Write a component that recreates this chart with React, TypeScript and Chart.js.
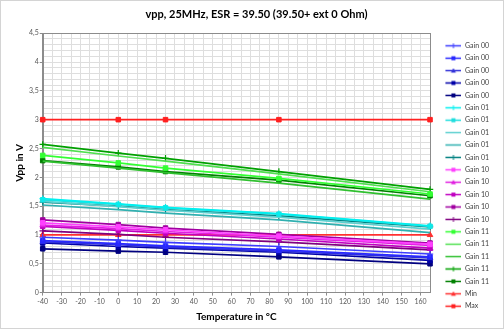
import React, { useEffect, useRef } from 'react';
import { Chart, registerables } from 'chart.js';
Chart.register(...registerables);

// ---- data ----
const temperatures = [-40, 0, 25, 85, 165];

const gain00a = [0.96, 0.91, 0.87, 0.80, 0.67];
const gain00b = [0.90, 0.85, 0.81, 0.74, 0.62];
const gain00c = [0.88, 0.83, 0.79, 0.72, 0.60];
const gain00d = [0.86, 0.80, 0.77, 0.70, 0.56];
const gain00e = [0.76, 0.72, 0.70, 0.62, 0.50];

const gain01a = [1.63, 1.54, 1.48, 1.37, 1.16];
const gain01b = [1.61, 1.53, 1.47, 1.36, 1.15];
const gain01c = [1.58, 1.49, 1.43, 1.31, 1.10];
const gain01d = [1.52, 1.44, 1.38, 1.26, 1.04];
const gain01e = [1.57, 1.50, 1.44, 1.33, 1.14];

const gain10a = [1.21, 1.14, 1.09, 0.98, 0.84];
const gain10b = [1.17, 1.11, 1.06, 0.96, 0.82];
const gain10c = [1.15, 1.08, 1.03, 0.93, 0.77];
const gain10d = [1.26, 1.18, 1.12, 1.01, 0.86];
const gain10e = [1.07, 1.01, 0.96, 0.88, 0.74];

const gain11a = [2.38, 2.25, 2.16, 1.98, 1.71];
const gain11b = [2.52, 2.37, 2.28, 2.06, 1.75];
const gain11c = [2.28, 2.16, 2.08, 1.90, 1.62];
const gain11d = [2.57, 2.42, 2.33, 2.10, 1.79];
const gain11e = [2.29, 2.18, 2.10, 1.95, 1.68];

const minValues = [1, 1, 1, 1, 1];
const maxValues = [3, 3, 3, 3, 3];

const titleText = 'vpp, 25MHz, ESR = 39.50 (39.50+ ext 0 Ohm)';
const xTitle = 'Temperature in °C';
const yTitle = 'Vpp in V';
const xMin = -40;
const xMax = 165;
const yMin = 0;
const yMax = 4.5;

// ---- series styling ----
type Marker = 'cross' | 'rect' | 'triangle' | false;
const series: { label: string; values: number[]; color: string; marker: Marker }[] = [
  { label: 'Gain 00', values: gain00a, color: '#3c3cff', marker: 'cross' },
  { label: 'Gain 00', values: gain00b, color: '#2828ff', marker: 'rect' },
  { label: 'Gain 00', values: gain00c, color: '#3030d8', marker: 'triangle' },
  { label: 'Gain 00', values: gain00d, color: '#0000a8', marker: 'rect' },
  { label: 'Gain 00', values: gain00e, color: '#000080', marker: 'rect' },
  { label: 'Gain 01', values: gain01a, color: '#00f0f0', marker: 'cross' },
  { label: 'Gain 01', values: gain01b, color: '#20dede', marker: 'rect' },
  { label: 'Gain 01', values: gain01c, color: '#5cd0d0', marker: false },
  { label: 'Gain 01', values: gain01d, color: '#30b0b0', marker: false },
  { label: 'Gain 01', values: gain01e, color: '#008080', marker: 'cross' },
  { label: 'Gain 10', values: gain10a, color: '#ff40ff', marker: 'rect' },
  { label: 'Gain 10', values: gain10b, color: '#e020e0', marker: 'triangle' },
  { label: 'Gain 10', values: gain10c, color: '#c000c0', marker: 'rect' },
  { label: 'Gain 10', values: gain10d, color: '#a000a0', marker: 'rect' },
  { label: 'Gain 10', values: gain10e, color: '#800080', marker: 'cross' },
  { label: 'Gain 11', values: gain11a, color: '#33ff33', marker: 'rect' },
  { label: 'Gain 11', values: gain11b, color: '#50e050', marker: false },
  { label: 'Gain 11', values: gain11c, color: '#30c030', marker: false },
  { label: 'Gain 11', values: gain11d, color: '#00a000', marker: 'cross' },
  { label: 'Gain 11', values: gain11e, color: '#008000', marker: 'rect' },
  { label: 'Min', values: minValues, color: '#ff3030', marker: 'triangle' },
  { label: 'Max', values: maxValues, color: '#ff2020', marker: 'rect' },
];

const FONT = 'Lato, "Liberation Sans", sans-serif';
const ICON_GAP = 10;
const ICON_LINE = 16;
const LEGEND_SHIFT = 13;

function makeLegendIcon(color: string, marker: Marker): HTMLCanvasElement {
  const c = document.createElement('canvas');
  c.width = ICON_GAP + ICON_LINE;
  c.height = 7;
  const g = c.getContext('2d')!;
  const x0 = ICON_GAP;
  const mid = x0 + ICON_LINE / 2;
  g.strokeStyle = color;
  g.fillStyle = color;
  g.lineWidth = 1.5;
  g.beginPath();
  g.moveTo(x0, 3.5);
  g.lineTo(x0 + ICON_LINE, 3.5);
  g.stroke();
  if (marker === 'rect') {
    g.fillRect(mid - 2, 1.5, 4, 4);
  } else if (marker === 'triangle') {
    g.beginPath();
    g.moveTo(mid, 1);
    g.lineTo(mid + 2.5, 5.5);
    g.lineTo(mid - 2.5, 5.5);
    g.closePath();
    g.fill();
  } else if (marker === 'cross') {
    g.lineWidth = 1;
    g.beginPath();
    g.moveTo(mid, 1);
    g.lineTo(mid, 6);
    g.stroke();
  }
  return c;
}

const isHalf = (v: number) => Math.abs(v * 2 - Math.round(v * 2)) < 1e-6;

export default function App() {
  const ref = useRef<HTMLCanvasElement | null>(null);

  useEffect(() => {
    if (!ref.current) return;
    const icons = series.map((s) => makeLegendIcon(s.color, s.marker));

    const plotBorder = {
      id: 'plotBorder',
      afterLayout(chart: any) {
        const lg = chart.legend;
        if (lg) {
          lg.top += LEGEND_SHIFT;
          lg.bottom += LEGEND_SHIFT;
        }
      },
      beforeDatasetsDraw(chart: any) {
        const { ctx, chartArea } = chart;
        ctx.save();
        ctx.strokeStyle = '#8c8c8c';
        ctx.lineWidth = 1;
        ctx.strokeRect(
          Math.round(chartArea.left) + 0.5,
          Math.round(chartArea.top) + 0.5,
          Math.round(chartArea.right - chartArea.left),
          Math.round(chartArea.bottom - chartArea.top)
        );
        ctx.restore();
      },
    };

    const chart = new Chart(ref.current, {
      type: 'line',
      data: {
        datasets: series.map((s) => ({
          label: s.label,
          data: temperatures.map((t, i) => ({ x: t, y: s.values[i] })),
          borderColor: s.color,
          backgroundColor: s.color,
          borderWidth: 1.7,
          pointStyle: s.marker === false ? false : s.marker,
          pointRadius: s.marker === false ? 0 : 3.2,
          pointBorderWidth: s.marker === 'cross' ? 1.2 : 1,
          pointBorderColor: s.color,
          pointBackgroundColor: s.color,
          tension: 0,
          clip: 8,
        })),
      },
      options: {
        animation: false,
        responsive: false,
        layout: { padding: { left: 13, right: 4, top: 2, bottom: 5 } },
        plugins: {
          title: {
            display: true,
            text: titleText,
            color: '#000',
            font: { family: FONT, size: 11, weight: 'bold' },
            padding: { top: 5, bottom: 12 },
          },
          legend: {
            position: 'right',
            align: 'center',
            labels: {
              usePointStyle: true,
              pointStyleWidth: ICON_GAP + ICON_LINE,
              boxHeight: 7,
              padding: 5.4,
              color: '#404040',
              font: { family: FONT, size: 7, lineHeight: 1.2 },
              generateLabels: (ch: any) =>
                ch.data.datasets.map((ds: any, i: number) => ({
                  text: ds.label,
                  datasetIndex: i,
                  pointStyle: icons[i],
                  fillStyle: ds.borderColor,
                  strokeStyle: ds.borderColor,
                  lineWidth: 0,
                  hidden: false,
                  fontColor: '#404040',
                })),
            },
          },
          tooltip: { enabled: false },
        },
        scales: {
          x: {
            type: 'linear',
            min: xMin,
            max: xMax,
            ticks: {
              stepSize: 5,
              autoSkip: false,
              maxRotation: 0,
              color: '#595959',
              font: { family: FONT, size: 7 },
              padding: 2,
              callback: (v: any) => (Math.round(v) % 10 === 0 ? String(Math.round(v)) : ''),
            },
            grid: {
              color: '#dedede',
              tickLength: 3,
              tickColor: (c: any) => (c.tick && Math.round(c.tick.value) % 10 === 0 ? '#8c8c8c' : 'rgba(0,0,0,0)'),
            },
            border: { color: '#8c8c8c' },
            title: {
              display: true,
              text: xTitle,
              color: '#000',
              font: { family: FONT, size: 10, weight: 'bold' },
              padding: { top: 3, bottom: 0 },
            },
          },
          y: {
            type: 'linear',
            min: yMin,
            max: yMax,
            ticks: {
              stepSize: 0.1,
              autoSkip: false,
              color: '#595959',
              font: { family: FONT, size: 7 },
              padding: 1,
              callback: (v: any) => (isHalf(v) ? String(Math.round(v * 10) / 10).replace('.', ',') : ''),
            },
            grid: {
              color: '#dedede',
              tickLength: 3,
              tickColor: (c: any) => (c.tick && isHalf(c.tick.value) ? '#8c8c8c' : 'rgba(0,0,0,0)'),
            },
            border: { color: '#8c8c8c' },
            title: {
              display: true,
              text: yTitle,
              color: '#000',
              font: { family: FONT, size: 10, weight: 'bold' },
              padding: { top: 0, bottom: 2 },
            },
          },
        },
      },
      plugins: [plotBorder],
    } as any);

    return () => chart.destroy();
  }, []);

  return (
    <div
      style={{
        position: 'absolute',
        left: 0,
        top: 0,
        width: 502,
        height: 327,
        border: '1px solid #d4d4d4',
        background: '#fff',
      }}
    >
      <canvas ref={ref} width={502} height={327} style={{ display: 'block' }} />
    </div>
  );
}
